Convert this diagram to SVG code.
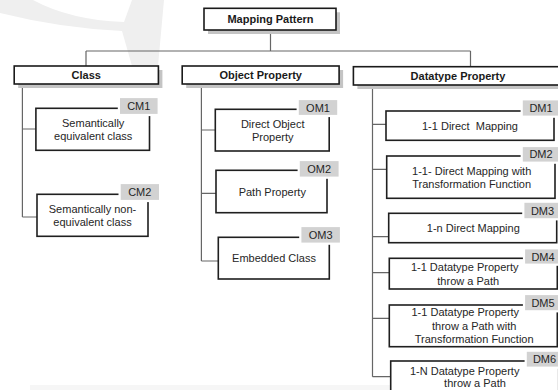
<svg xmlns="http://www.w3.org/2000/svg" width="558" height="390" viewBox="0 0 558 390">
<style>
.bg{fill:#efefef;stroke:none}
.hdr{fill:#fff;stroke:#1a1a1a;stroke-width:1.6}
.shadow{fill:#c4c4c4;stroke:none}
.box{fill:#fff;stroke:#1f1f1f;stroke-width:1.6}
.tag{fill:#d2d2d2;stroke:#fff;stroke-width:2.2}
.ht{font-family:"Liberation Sans",Arial,sans-serif;font-size:11px;font-weight:bold;fill:#1a1a1a;text-anchor:middle}
.t{font-family:"Liberation Sans",Arial,sans-serif;font-size:11px;fill:#262626;text-anchor:middle}
.tt{font-family:"Liberation Sans",Arial,sans-serif;font-size:11px;fill:#262626;text-anchor:middle}
.c{fill:none;stroke:#666;stroke-width:1.2}
</style>
<rect width="558" height="390" fill="#fff"/>
<g id="watermark">
<path class="bg" d="M0,0 L33,0 Q70,20 124,22 L132,0 L164,0 L158,66 L132,66 L122,31 Q60,28 0,13 Z"/>
<rect x="30" y="385" width="528" height="5" fill="#f6f6f6"/>
</g>
<g id="connectors">
<path class="c" d="M270.5,30 V51 M86,51 H470.5 M86,51 V66 M470.5,51 V66"/>
<path class="c" d="M22.4,84 V217 M22.4,129 H36 M22.4,217 H37"/>
<path class="c" d="M201.4,84 V261 M201.4,130 H215.3 M201.4,193.3 H216 M201.4,261 H218.3"/>
<path class="c" d="M372.5,85 V376.7 M372.5,124.3 H386 M372.5,169.3 H386.7 M372.5,236.7 H388.7 M372.5,272.7 H389.3 M372.5,318.3 H389.3 M372.5,376.7 H390.7"/>
</g>
<g id="mapping-pattern">
<rect class="shadow" x="208" y="12.3" width="132" height="21.7"/>
<rect class="hdr" x="204" y="8.3" width="132" height="21.7"/>
<text class="ht" x="270.5" y="23">Mapping Pattern</text>
</g>
<g id="class">
<rect class="shadow" x="18.2" y="70" width="144.2" height="18"/>
<rect class="hdr" x="14.2" y="66" width="144.2" height="18"/>
<text class="ht" x="86.3" y="79">Class</text>
</g>
<g id="object-property">
<rect class="shadow" x="186.2" y="70" width="156.9" height="18"/>
<rect class="hdr" x="182.2" y="66" width="156.9" height="18"/>
<text class="ht" x="260.7" y="79">Object Property</text>
</g>
<g id="datatype-property">
<rect class="shadow" x="357.4" y="70.7" width="220" height="18.3"/>
<rect class="hdr" x="353.4" y="66.7" width="220" height="18.3"/>
<text class="ht" x="458" y="80">Datatype Property</text>
</g>
<g id="cm1">
<rect class="box" x="35.9" y="108.3" width="113.6" height="42"/>
<rect class="tag" x="118.9" y="97" width="39.8" height="18"/>
<text class="tt" x="138.8" y="110">CM1</text>
<text class="t" x="93.2" y="126.7">Semantically</text>
<text class="t" x="93.2" y="139.7">equivalent class</text>
</g>
<g id="cm2">
<rect class="box" x="37" y="194.3" width="111" height="42"/>
<rect class="tag" x="119.6" y="183" width="40.5" height="18"/>
<text class="tt" x="139.8" y="196">CM2</text>
<text class="t" x="92.5" y="212.7">Semantically non-</text>
<text class="t" x="92.5" y="226">equivalent class</text>
</g>
<g id="om1">
<rect class="box" x="215.3" y="109.3" width="113.9" height="41.7"/>
<rect class="tag" x="297.7" y="99" width="40.6" height="17"/>
<text class="tt" x="318" y="111.5">OM1</text>
<text class="t" x="272.7" y="127.7">Direct Object</text>
<text class="t" x="272.7" y="141">Property</text>
</g>
<g id="om2">
<rect class="box" x="216" y="170.3" width="111" height="42.4"/>
<rect class="tag" x="298.7" y="160" width="41" height="17.7"/>
<text class="tt" x="319.2" y="172.8">OM2</text>
<text class="t" x="272.3" y="195.7">Path Property</text>
</g>
<g id="om3">
<rect class="box" x="218.3" y="237.3" width="111" height="41.7"/>
<rect class="tag" x="300.3" y="226" width="40.7" height="17.7"/>
<text class="tt" x="320.7" y="239">OM3</text>
<text class="t" x="274" y="261.7">Embedded Class</text>
</g>
<g id="dm1">
<rect class="box" x="386" y="111" width="168" height="29.3"/>
<rect class="tag" x="521.7" y="99.3" width="38" height="17.4"/>
<text class="tt" x="541" y="112">DM1</text>
<text class="t" x="470" y="130" style="white-space:pre">1-1 Direct  Mapping</text>
</g>
<g id="dm2">
<rect class="box" x="386.7" y="156" width="168.3" height="42.3"/>
<rect class="tag" x="521.7" y="146" width="38" height="16.7"/>
<text class="tt" x="541" y="158.3">DM2</text>
<text class="t" x="471.7" y="175">1-1- Direct Mapping with</text>
<text class="t" x="471.7" y="188">Transformation Function</text>
</g>
<g id="dm3">
<rect class="box" x="388.7" y="213.3" width="168" height="29.4"/>
<rect class="tag" x="523.3" y="201.7" width="38" height="17.6"/>
<text class="tt" x="542.5" y="214.5">DM3</text>
<text class="t" x="473.3" y="231.7">1-n Direct Mapping</text>
</g>
<g id="dm4">
<rect class="box" x="389.3" y="258.3" width="168" height="30.7"/>
<rect class="tag" x="524" y="248.3" width="38" height="16.4"/>
<text class="tt" x="543" y="260.5">DM4</text>
<text class="t" x="464.7" y="271.3">1-1 Datatype Property</text>
<text class="t" x="468.2" y="284.7">throw a Path</text>
</g>
<g id="dm5">
<rect class="box" x="389.3" y="305" width="168" height="41.7"/>
<rect class="tag" x="524" y="294" width="38" height="17.3"/>
<text class="tt" x="543" y="306.7">DM5</text>
<text class="t" x="465.3" y="316">1-1 Datatype Property</text>
<text class="t" x="474.2" y="329.7">throw a Path with</text>
<text class="t" x="474.2" y="343">Transformation Function</text>
</g>
<g id="dm6">
<rect class="box" x="390.7" y="361" width="168" height="40"/>
<rect class="tag" x="525.7" y="350.7" width="38" height="17"/>
<text class="tt" x="544.5" y="363.2">DM6</text>
<text class="t" x="464.7" y="374.7">1-N Datatype Property</text>
<text class="t" x="475" y="387.3">throw a Path</text>
</g>
</svg>
